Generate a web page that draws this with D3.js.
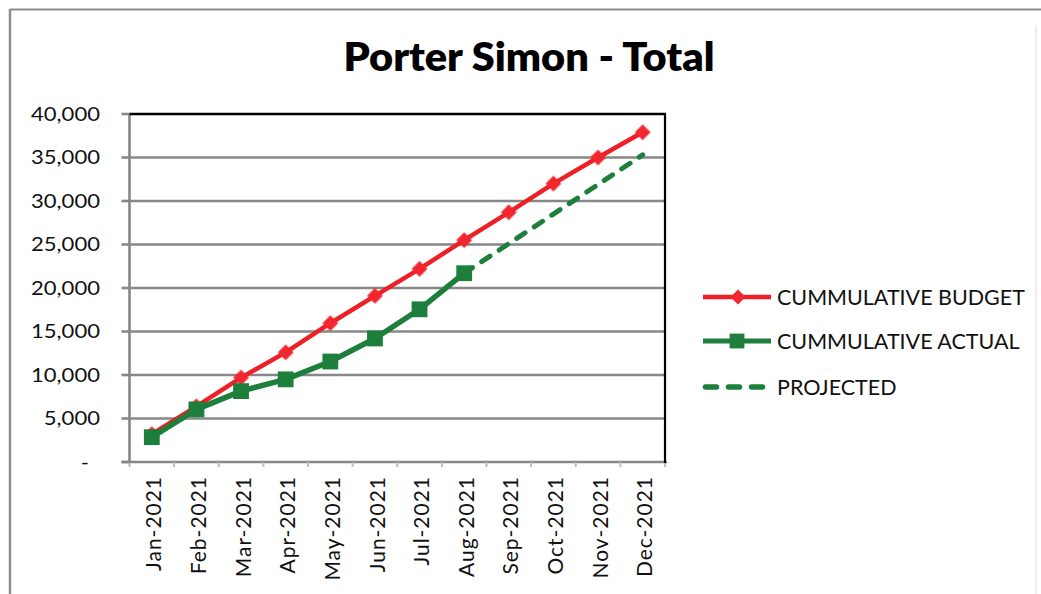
<!DOCTYPE html>
<html><head><meta charset="utf-8">
<script src="https://cdn.jsdelivr.net/npm/d3@7"></script>
<style>body{margin:0;background:#fff;overflow:hidden}</style>
</head><body>
<svg id="c" width="1041" height="594"></svg>
<script>
const title = "Porter Simon - Total";
const months = ["Jan-2021","Feb-2021","Mar-2021","Apr-2021","May-2021","Jun-2021","Jul-2021","Aug-2021","Sep-2021","Oct-2021","Nov-2021","Dec-2021"];
const budget = [3200, 6400, 9700, 12600, 15950, 19100, 22200, 25500, 28700, 32000, 35000, 37900];
const actual = [2850, 6050, 8150, 9500, 11550, 14200, 17550, 21700, null, null, null, null];
const projected = [null, null, null, null, null, null, null, 21700, 25100, 28500, 31900, 35300];
const yTicks = [0, 5000, 10000, 15000, 20000, 25000, 30000, 35000, 40000];
const yTickLabels = ["-", "5,000", "10,000", "15,000", "20,000", "25,000", "30,000", "35,000", "40,000"];
const seriesNames = ["CUMMULATIVE BUDGET", "CUMMULATIVE ACTUAL", "PROJECTED"];

const RED = "#ee1f26", GREEN = "#1e7f3d", GRID = "#878787";
const FONT = "Lato, 'Open Sans', sans-serif";
const svg = d3.select("#c");
const L = 129.5, R = 665, T = 114, B = 462;

const x = d3.scalePoint().domain(months).range([L, R]).padding(0.5);
const y = d3.scaleLinear().domain([0, 40000]).range([B, T]);

const defs = svg.append("defs");
defs.append("filter").attr("id","sh").attr("x","-5%").attr("y","-200%").attr("width","110%").attr("height","500%")
  .append("feGaussianBlur").attr("stdDeviation", 2);
defs.append("filter").attr("id","soft").append("feGaussianBlur").attr("stdDeviation", 0.5);

// outer frame
svg.append("line").attr("x1",10).attr("x2",1041).attr("y1",9.5).attr("y2",9.5).attr("stroke","#8e8e8e").attr("stroke-width",2);
svg.append("line").attr("x1",10).attr("x2",10).attr("y1",9).attr("y2",594).attr("stroke","#8e8e8e").attr("stroke-width",2.5);
svg.append("line").attr("x1",1036).attr("x2",1036).attr("y1",25).attr("y2",594).attr("stroke","#ececec").attr("stroke-width",2);

function natWidth(str, fs, weight) {
  const t = svg.append("text").attr("font-family", FONT).attr("font-size", fs).attr("font-weight", weight).text(str);
  const w = t.node().getComputedTextLength();
  t.remove();
  return w;
}
function stretchText(parent, str, ax, ay, anchor, fs, weight, sx) {
  return parent.append("g").attr("transform", `translate(${ax},${ay}) scale(${sx},1)`)
    .append("text").attr("text-anchor", anchor).attr("font-family", FONT).attr("font-size", fs)
    .attr("font-weight", weight).attr("fill", "#000").text(str);
}

// title
const titleFs = 40;
const tsx = 366 / natWidth(title, titleFs, 700);
stretchText(svg, title, 529, 71, "middle", titleFs, 800, tsx);

// gridlines
const g = svg.append("g");
g.selectAll("line.grid").data(yTicks.filter(v => v > 0 && v < 40000)).join("line")
  .attr("x1", L).attr("x2", R).attr("y1", d => y(d)).attr("y2", d => y(d))
  .attr("stroke", GRID).attr("stroke-width", 2.6);

// x axis shadow + line
g.append("line").attr("x1", L - 6).attr("x2", R + 4).attr("y1", B + 4).attr("y2", B + 4)
  .attr("stroke", "#c4c4c4").attr("stroke-width", 3).attr("filter", "url(#sh)");
g.append("line").attr("x1", L - 8).attr("x2", R + 2).attr("y1", B).attr("y2", B)
  .attr("stroke", GRID).attr("stroke-width", 2.6);
const step = x.step();
const bounds = d3.range(months.length + 1).map(i => L + i * step);
g.selectAll("line.xt").data(bounds).join("line")
  .attr("x1", d => d).attr("x2", d => d).attr("y1", B).attr("y2", B + 5)
  .attr("stroke", "#bdbdbd").attr("stroke-width", 2);

// y axis
g.append("line").attr("x1", L).attr("x2", L).attr("y1", T).attr("y2", B + 1)
  .attr("stroke", GRID).attr("stroke-width", 2.6);
g.selectAll("line.yt").data(yTicks).join("line")
  .attr("x1", L - 8).attr("x2", L).attr("y1", d => y(d)).attr("y2", d => y(d))
  .attr("stroke", GRID).attr("stroke-width", 2.6);

// plot border top/right
g.append("line").attr("x1", L).attr("x2", R + 1).attr("y1", T).attr("y2", T).attr("stroke", "#000").attr("stroke-width", 2.4);
g.append("line").attr("x1", R).attr("x2", R).attr("y1", T).attr("y2", B + 1).attr("stroke", "#000").attr("stroke-width", 2.2);

// y labels
const yFs = 19;
const ysx = 69 / natWidth("40,000", yFs, 400);
yTicks.forEach((v, i) => {
  const lab = yTickLabels[i];
  stretchText(svg, lab, lab === "-" ? 89 : 100, y(v) + yFs * 0.36, "end", yFs, 400, ysx).attr("fill", "#111");
});

// x labels
const xFs = 21;
const xls = (94 - natWidth("Jan-2021", xFs, 400)) / 7;
svg.selectAll("text.xl").data(months).join("text")
  .attr("transform", d => `translate(${x(d) + 2},${475 + xls}) rotate(-90)`)
  .attr("dy", "0.36em")
  .attr("text-anchor", "end").attr("font-family", FONT).attr("font-size", xFs)
  .attr("letter-spacing", xls).attr("fill", "#111").text(d => d);

// lines
const idx = months.map((m, i) => i);
const line = arr => d3.line().defined(i => arr[i] != null).x(i => x(months[i])).y(i => y(arr[i]))(idx);

svg.append("path").attr("d", line(budget)).attr("fill","none").attr("stroke", RED).attr("stroke-width", 4.5).attr("stroke-linejoin","round");
svg.append("path").attr("d", line(projected)).attr("fill","none").attr("stroke", GREEN).attr("stroke-width", 5)
  .attr("stroke-dasharray", "10,11").attr("stroke-linecap","round");
svg.append("g").selectAll("path").data(idx).join("path")
  .attr("d", d3.symbol(d3.symbolSquare, 125)())
  .attr("transform", i => `translate(${x(months[i])},${y(budget[i])}) rotate(45)`)
  .attr("fill", "#f1282f").attr("filter","url(#soft)");
svg.append("path").attr("d", line(actual)).attr("fill","none").attr("stroke", GREEN).attr("stroke-width", 5.5).attr("stroke-linejoin","round");
svg.append("g").selectAll("path").data(idx.filter(i => actual[i] != null)).join("path")
  .attr("d", d3.symbol(d3.symbolSquare, 250)())
  .attr("transform", i => `translate(${x(months[i])},${y(actual[i])})`)
  .attr("fill", GREEN);

// legend
const legY = [297, 341, 387];
const lg = svg.append("g");
const lFs = 21;
const lsx = 248 / natWidth(seriesNames[0], lFs, 400);
seriesNames.forEach((name, i) => {
  const yy = legY[i];
  if (i === 0) {
    lg.append("line").attr("x1", 703).attr("x2", 771).attr("y1", yy).attr("y2", yy).attr("stroke", RED).attr("stroke-width", 4.5);
    lg.append("path").attr("d", d3.symbol(d3.symbolSquare, 115)()).attr("transform", `translate(738,${yy}) rotate(45)`).attr("fill", "#f1282f");
  } else if (i === 1) {
    lg.append("line").attr("x1", 703).attr("x2", 771).attr("y1", yy).attr("y2", yy).attr("stroke", GREEN).attr("stroke-width", 5);
    lg.append("path").attr("d", d3.symbol(d3.symbolSquare, 220)()).attr("transform", `translate(737,${yy})`).attr("fill", GREEN);
  } else {
    lg.append("line").attr("x1", 705.5).attr("x2", 763).attr("y1", yy).attr("y2", yy).attr("stroke", GREEN).attr("stroke-width", 5.5)
      .attr("stroke-dasharray", "11,12").attr("stroke-linecap", "round");
  }
  stretchText(lg, name, 777, yy + lFs * 0.36, "start", lFs, 400, lsx).attr("fill", "#111");
});
</script>
</body></html>
